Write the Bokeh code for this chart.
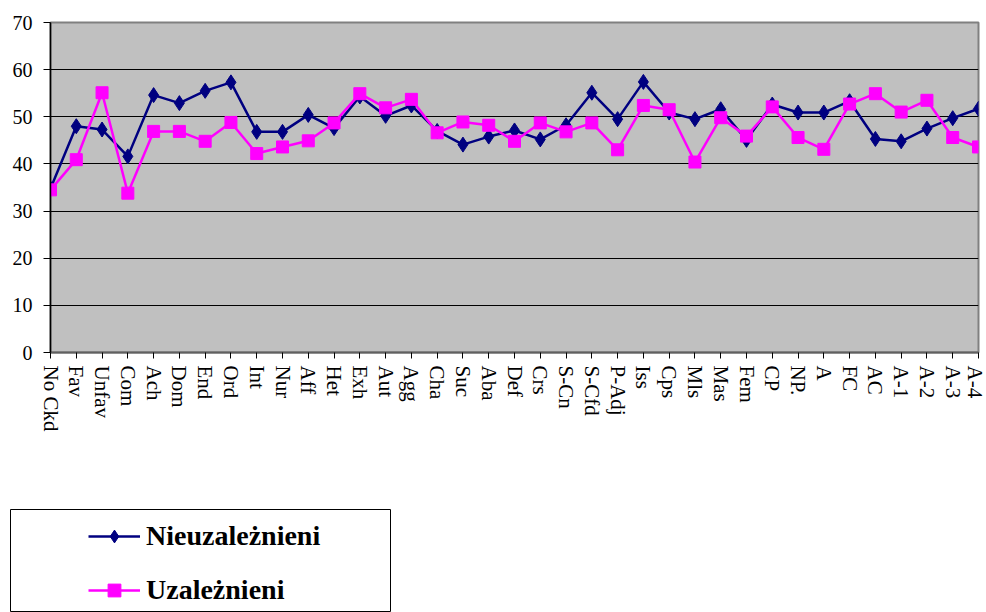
from bokeh.plotting import figure
from bokeh.models import Range1d, FixedTicker, Legend, LegendItem
from bokeh.embed import file_html
from bokeh.resources import INLINE

categories = ["No Ckd", "Fav", "Unfav", "Com", "Ach", "Dom", "End", "Ord", "Int", "Nur",
              "Aff", "Het", "Exh", "Aut", "Agg", "Cha", "Suc", "Aba", "Def", "Crs",
              "S-Cn", "S-Cfd", "P-Adj", "Iss", "Cps", "Mls", "Mas", "Fem", "CP", "NP.",
              "A", "FC", "AC", "A-1", "A-2", "A-3", "A-4"]
nieuzaleznieni = [34.8, 48.0, 47.3, 41.6, 54.6, 52.9, 55.5, 57.3, 46.8, 46.8,
                  50.4, 47.6, 54.3, 50.2, 52.4, 47.0, 44.1, 45.8, 47.1, 45.2,
                  48.2, 55.1, 49.5, 57.4, 50.9, 49.5, 51.6, 45.1, 52.6, 50.9,
                  50.9, 53.3, 45.3, 44.8, 47.5, 49.7, 51.7]
uzaleznieni = [34.5, 40.9, 55.1, 33.8, 46.9, 46.9, 44.8, 48.8, 42.2, 43.6,
               44.9, 48.7, 54.9, 51.9, 53.7, 46.6, 48.9, 48.2, 44.8, 48.7,
               46.8, 48.7, 43.0, 52.4, 51.5, 40.4, 49.8, 45.9, 52.1, 45.6,
               43.1, 52.7, 54.9, 51.0, 53.5, 45.6, 43.6]
y_ticks = [0, 10, 20, 30, 40, 50, 60, 70]
series_names = ["Nieuzależnieni", "Uzależnieni"]

FONT = "Liberation Serif"
NAVY = "#000080"
MAGENTA = "#FF00FF"
x = list(range(len(categories)))

# ---- main chart ----
p = figure(width=986, height=508, output_backend="svg", toolbar_location=None,
           x_range=Range1d(0, len(categories) - 1), y_range=Range1d(0, 70),
           min_border_left=50, min_border_right=8, min_border_top=22, min_border_bottom=156)
p.background_fill_color = "#C0C0C0"
p.border_fill_color = "white"
p.outline_line_color = "#808080"
p.outline_line_width = 2

p.xaxis.ticker = FixedTicker(ticks=x)
p.xaxis.major_label_overrides = {i: c for i, c in zip(x, categories)}
p.xaxis.major_label_orientation = "vertical"
p.xaxis.major_label_text_font = FONT
p.xaxis.major_label_text_font_size = "21px"
p.xaxis.major_label_text_color = "black"
p.xaxis.major_label_standoff = 7
p.xaxis.major_tick_out = 6
p.xaxis.major_tick_in = 0
p.xaxis.major_tick_line_color = "black"
p.xaxis.minor_tick_line_color = None
p.xaxis.axis_line_color = "#606060"
p.xaxis.axis_line_width = 2

p.yaxis.ticker = FixedTicker(ticks=y_ticks)
p.yaxis.major_label_text_font = FONT
p.yaxis.major_label_text_font_size = "20px"
p.yaxis.major_label_text_color = "black"
p.yaxis.major_label_standoff = 11
p.yaxis.major_tick_out = 7
p.yaxis.major_tick_in = 0
p.yaxis.major_tick_line_color = "black"
p.yaxis.minor_tick_line_color = None
p.yaxis.axis_line_color = "black"
p.yaxis.axis_line_width = 1.5

p.xgrid.grid_line_color = None
p.ygrid.grid_line_color = "black"
p.ygrid.grid_line_width = 1

p.line(x, nieuzaleznieni, line_color=NAVY, line_width=2.5)
p.scatter(x, nieuzaleznieni, marker="diamond", size=15, fill_color=NAVY, line_color=NAVY)
p.line(x, uzaleznieni, line_color=MAGENTA, line_width=2.5)
p.scatter(x, uzaleznieni, marker="square", size=12, fill_color=MAGENTA, line_color=MAGENTA)

# ---- legend box (its own small canvas; its outline is the legend border) ----
lg = figure(width=986, height=104, output_backend="svg", toolbar_location=None,
            x_range=Range1d(-1000, -999), y_range=Range1d(-1000, -999),
            x_axis_type=None, y_axis_type=None,
            min_border_left=10, min_border_right=596, min_border_top=1, min_border_bottom=0)
lg.grid.visible = False
lg.background_fill_color = "white"
lg.border_fill_color = "white"
lg.outline_line_color = "black"
lg.outline_line_width = 1

# same series, outside this canvas's view: only their legend keys show
kl1 = lg.line(x, nieuzaleznieni, line_color=NAVY, line_width=2.5)
ks1 = lg.scatter(x, nieuzaleznieni, marker="diamond", size=15, fill_color=NAVY, line_color=NAVY)
kl2 = lg.line(x, uzaleznieni, line_color=MAGENTA, line_width=2.5)
ks2 = lg.scatter(x, uzaleznieni, marker="square", size=12, fill_color=MAGENTA, line_color=MAGENTA)

legend = Legend(items=[LegendItem(label=series_names[0], renderers=[kl1, ks1]),
                       LegendItem(label=series_names[1], renderers=[kl2, ks2])],
                location=(78, 6), padding=0, spacing=22, margin=0,
                glyph_width=52, glyph_height=32, label_height=32, label_standoff=6,
                label_text_font=FONT, label_text_font_size="28px", label_text_font_style="bold",
                label_text_color="black",
                border_line_color=None, background_fill_alpha=0)
lg.add_layout(legend, "center")

open("out.html", "w").write(file_html([p, lg], INLINE))
